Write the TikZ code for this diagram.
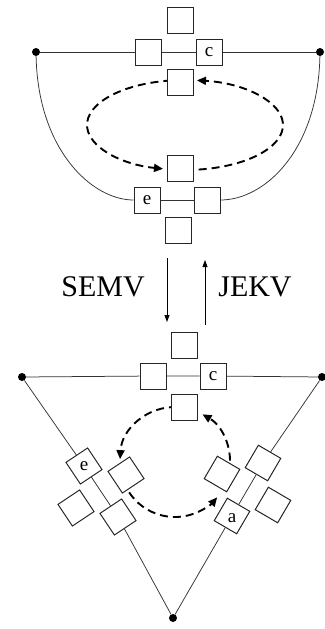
\documentclass[tikz,border=0pt]{standalone}
\usepackage{fontspec}
\setmainfont{Liberation Serif}
\usetikzlibrary{arrows.meta,calc}

\begin{document}
\begin{tikzpicture}[x=1pt,y=-1pt,
  box/.style={draw=black!85,line width=1pt,fill=white,minimum size=26pt,inner sep=0pt},
  wire/.style={line width=0.75pt,draw=black!80},
  dot/.style={circle,fill=black,inner sep=0pt,minimum size=8pt},
  loop/.style={line width=1.9pt,dash pattern=on 8pt off 5pt},
  tip/.style={-{Triangle[length=9pt,width=8pt]}},
  flow/.style={line width=0.8pt,-{Triangle[length=7pt,width=5pt]}},
  lbl/.style={font=\fontsize{19}{19}\selectfont,inner sep=0pt},
  big/.style={font=\fontsize{30}{30}\selectfont,inner sep=0pt}]
\useasboundingbox (0,0) rectangle (324,629);

% ---------------- upper figure ----------------
\coordinate (ec) at (185,125);
\draw[loop,tip] ($(ec)+(262:98 and 45)$) arc[start angle=262,end angle=103,x radius=98,y radius=45];
\draw[loop,tip] ($(ec)+(82:98 and 45)$) arc[start angle=82,end angle=-83,x radius=98,y radius=45];

\node[dot] (L1) at (36,52) {};
\node[dot] (R1) at (320,52) {};
\node[box] (TL) at (148,52) {};
\node[box,lbl,minimum size=26pt] (Tc) at (209,52) {c};
\node[box] (Tout) at (180,20) {};
\node[box] (Tin) at (180,82) {};
\node[box] (Bin) at (180,168) {};
\node[box,lbl,minimum size=26pt] (Be) at (147,200) {e};
\node[box] (Br) at (207,200) {};
\node[box] (Bout) at (178,230) {};

\draw[wire] (L1) -- (TL) (TL) -- (Tc) (Tc) -- (R1);
\draw[wire] (Be) -- (Br);
\draw[wire] (L1) .. controls (38,150) and (92,200) .. (Be.west);
\draw[wire] (R1) .. controls (318,150) and (265,200) .. (Br.east);

% ---------------- transition arrows ----------------
\coordinate (d1) at (167,258);
\coordinate (d2) at (167,322);
\coordinate (u1) at (205,325);
\coordinate (u2) at (205,260);
\draw[flow] (d1) -- (d2);
\draw[flow] (u1) -- (u2);
\node[big] (semv) at (103,287) {SEMV};
\node[big] (jekv) at (255,287) {JEKV};

% ---------------- lower figure ----------------
\coordinate (cc) at (175,462);
\draw[loop,tip] ($(cc)+(272:55)$) arc[start angle=272,end angle=183,radius=55];
\draw[loop,tip] ($(cc)+(160:55)$) arc[start angle=160,end angle=40,radius=55];
\draw[loop,tip] ($(cc)+(12:55)$) arc[start angle=12,end angle=-60,radius=55];

\node[dot] (L2) at (22,377) {};
\node[dot] (R2) at (322,377) {};
\node[dot] (B2) at (173,618) {};

\node[box] (Ul) at (153,376) {};
\node[box,lbl,minimum size=26pt] (Uc) at (213,376) {c};
\node[box] (Uout) at (184,345) {};
\node[box] (Uin) at (184,407) {};

\node[box,rotate=33.7] (e) at (84,466) {};
\node[box,rotate=33.7] (lo) at (118,517) {};
\node[box,rotate=33.7] (inL) at (126,475) {};
\node[box,rotate=33.7] (outL) at (76,508) {};
\node[lbl] at (e) {e};

\node[box,rotate=-30.3] (up) at (263,463) {};
\node[box,rotate=-30.3] (a) at (232,516) {};
\node[box,rotate=-30.3] (inR) at (222,474) {};
\node[box,rotate=-30.3] (outR) at (273,505) {};
\node[lbl] at ($(a)+(0,2)$) {a};

\draw[wire] (L2) -- (Ul) (Ul) -- (Uc) (Uc) -- (R2);
\draw[wire] (L2) -- (e) (e) -- (lo) (lo) -- (B2);
\draw[wire] (R2) -- (up) (up) -- (a) (a) -- (B2);
\end{tikzpicture}
\end{document}
